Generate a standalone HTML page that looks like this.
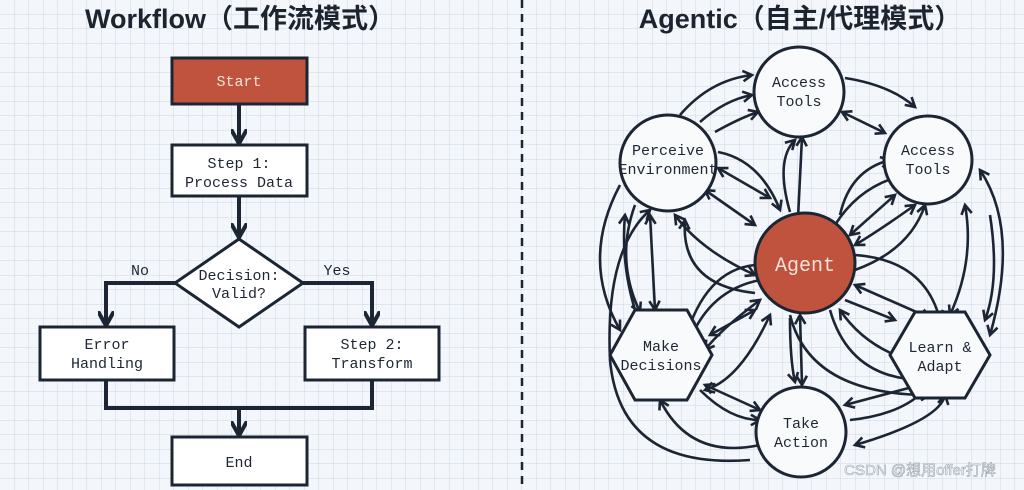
<!DOCTYPE html>
<html><head><meta charset="utf-8"><style>
html,body{margin:0;padding:0;background:#f3f6fa}
svg{display:block}
.t{font-family:"Liberation Mono",monospace;font-size:15px;fill:#1e2633;text-anchor:middle}
.h{font-family:"Liberation Sans","Noto Sans CJK SC",sans-serif;font-size:27px;font-weight:bold;fill:#1c2430;text-anchor:middle}
</style></head><body>
<svg width="1024" height="490" viewBox="0 0 1024 490" xmlns="http://www.w3.org/2000/svg">
<defs>
<pattern id="g" width="14.5" height="14.5" patternUnits="userSpaceOnUse"><path d="M14.5 0V14.5H0" fill="none" stroke="#cfd8e3" stroke-width="1"/></pattern>
<marker id="a" viewBox="0 0 10 10" refX="8" refY="5" markerWidth="5" markerHeight="5" orient="auto-start-reverse"><path d="M1 1L8 5L1 9" fill="none" stroke="#1c2533" stroke-width="2"/></marker>
<marker id="b" viewBox="0 0 10 10" refX="8" refY="5" markerWidth="4" markerHeight="4" orient="auto"><path d="M0 0L9 5L0 10" fill="none" stroke="#1c2533" stroke-width="2.5"/></marker>
</defs>
<rect width="1024" height="490" fill="#f3f6fa"/>
<rect width="1024" height="490" fill="url(#g)"/>
<text class="h" x="240" y="28">Workflow（工作流模式）</text>
<text class="h" x="800" y="28">Agentic（自主/代理模式）</text>
<line x1="522" y1="0" x2="522" y2="490" stroke="#1c2533" stroke-width="2.5" stroke-dasharray="8,6"/>

<g stroke="#1c2533" stroke-width="4" fill="none" marker-end="url(#b)">
<path d="M239 105V142"/>
<path d="M239 197V236"/>
<path d="M175 283H106V324"/>
<path d="M303 283H372V324"/>
<path d="M239 408V434"/>
</g>
<path d="M106 381V408H372V381" stroke="#1c2533" stroke-width="4" fill="none"/>
<rect x="172" y="58" width="135" height="46" fill="#c0533e" stroke="#1c2533" stroke-width="3"/>
<text class="t" x="239" y="86" style="fill:#f6e3da">Start</text>
<rect x="172" y="145" width="135" height="51" fill="#fff" stroke="#1c2533" stroke-width="3"/>
<text class="t" x="239" y="168">Step 1:</text><text class="t" x="239" y="187">Process Data</text>
<path d="M239 239L303 283L239 327L175 283Z" fill="#fff" stroke="#1c2533" stroke-width="3"/>
<text class="t" x="239" y="280">Decision:</text><text class="t" x="239" y="298">Valid?</text>
<text class="t" x="140" y="275">No</text><text class="t" x="337" y="275">Yes</text>
<rect x="40" y="327" width="134" height="53" fill="#fff" stroke="#1c2533" stroke-width="3"/>
<text class="t" x="107" y="349">Error</text><text class="t" x="107" y="368">Handling</text>
<rect x="305" y="327" width="134" height="53" fill="#fff" stroke="#1c2533" stroke-width="3"/>
<text class="t" x="372" y="349">Step 2:</text><text class="t" x="372" y="368">Transform</text>
<rect x="172" y="437" width="135" height="48" fill="#fff" stroke="#1c2533" stroke-width="3"/>
<text class="t" x="239" y="467">End</text>

<g stroke="#1c2533" stroke-width="2.6" fill="none" marker-end="url(#a)">
<path d="M680 115Q710 80 752 75"/>
<path d="M700 122Q725 100 752 95"/>
<path d="M715 132Q740 118 758 112"/>
<path d="M845 78Q890 85 915 107"/>
<path d="M842 112L885 133" marker-start="url(#a)"/>
<path d="M718 152Q760 160 780 210"/>
<path d="M718 168L770 198" marker-start="url(#a)"/>
<path d="M705 190L755 225" marker-start="url(#a)"/>
<path d="M798 218Q800 180 802 137"/>
<path d="M790 212Q775 160 795 140"/>
<path d="M840 215Q850 170 890 160"/>
<path d="M835 225Q860 185 905 175"/>
<path d="M850 235L895 195" marker-start="url(#a)"/>
<path d="M855 245Q880 230 915 205" marker-start="url(#a)"/>
<path d="M855 270Q910 250 925 205"/>
<path d="M855 285L930 318" marker-start="url(#a)"/>
<path d="M845 300L895 320"/>
<path d="M855 255Q925 260 940 320"/>
<path d="M965 205Q975 260 950 315" marker-start="url(#a)"/>
<path d="M990 215Q1000 280 985 320"/>
<path d="M980 170Q1020 230 990 335" marker-start="url(#a)"/>
<path d="M895 355Q860 340 840 310"/>
<path d="M830 310Q850 380 925 380"/>
<path d="M790 315Q810 395 930 395"/>
<path d="M800 315L802 385" marker-start="url(#a)"/>
<path d="M790 318Q790 360 795 382"/>
<path d="M920 385L845 405"/>
<path d="M850 420Q900 415 925 390"/>
<path d="M855 445Q940 420 945 395" marker-start="url(#a)"/>
<path d="M760 300Q720 330 705 350" marker-start="url(#a)"/>
<path d="M755 310L710 335" marker-start="url(#a)"/>
<path d="M760 280Q710 290 690 340"/>
<path d="M755 265Q705 270 685 340"/>
<path d="M755 275Q700 250 675 215" marker-start="url(#a)"/>
<path d="M755 293Q680 285 685 220"/>
<path d="M650 215L655 310" marker-start="url(#a)"/>
<path d="M635 205Q615 260 640 312"/>
<path d="M620 185Q580 260 620 330"/>
<path d="M640 325Q620 270 625 215"/>
<path d="M705 385L760 410" marker-start="url(#a)"/>
<path d="M700 390Q730 420 760 420"/>
<path d="M760 445Q690 460 660 400"/>
<path d="M750 460Q620 470 610 360Q605 250 650 210"/>
<path d="M770 315Q740 380 705 390" marker-start="url(#a)"/>
</g>

<circle cx="799" cy="92" r="45" fill="#f8fafc" stroke="#1c2533" stroke-width="3"/>
<text class="t" x="799" y="87">Access</text><text class="t" x="799" y="106">Tools</text>
<circle cx="928" cy="160" r="44" fill="#f8fafc" stroke="#1c2533" stroke-width="3"/>
<text class="t" x="928" y="155">Access</text><text class="t" x="928" y="174">Tools</text>
<circle cx="668" cy="163" r="48" fill="#f8fafc" stroke="#1c2533" stroke-width="3"/>
<text class="t" x="668" y="155">Perceive</text><text class="t" x="668" y="174">Environment</text>
<circle cx="805" cy="263" r="50" fill="#c0533e" stroke="#1c2533" stroke-width="3"/>
<text class="t" x="805" y="271" style="fill:#f6e3da;font-size:20px">Agent</text>
<path d="M610 355L635 310H687L712 355L687 400H635Z" fill="#f8fafc" stroke="#1c2533" stroke-width="3"/>
<text class="t" x="661" y="351">Make</text><text class="t" x="661" y="370">Decisions</text>
<path d="M890 355L915 312H965L990 355L965 398H915Z" fill="#f8fafc" stroke="#1c2533" stroke-width="3"/>
<text class="t" x="940" y="352">Learn &amp;</text><text class="t" x="940" y="371">Adapt</text>
<circle cx="801" cy="432" r="45" fill="#f8fafc" stroke="#1c2533" stroke-width="3"/>
<text class="t" x="801" y="428">Take</text><text class="t" x="801" y="447">Action</text>
<text x="920" y="475" style="font-family:'Liberation Sans','Noto Sans CJK SC',sans-serif;font-size:15px;fill:#ffffff;stroke:#9aa3ad;stroke-width:0.6;text-anchor:middle">CSDN @想用offer打牌</text>
</svg>
</body></html>
